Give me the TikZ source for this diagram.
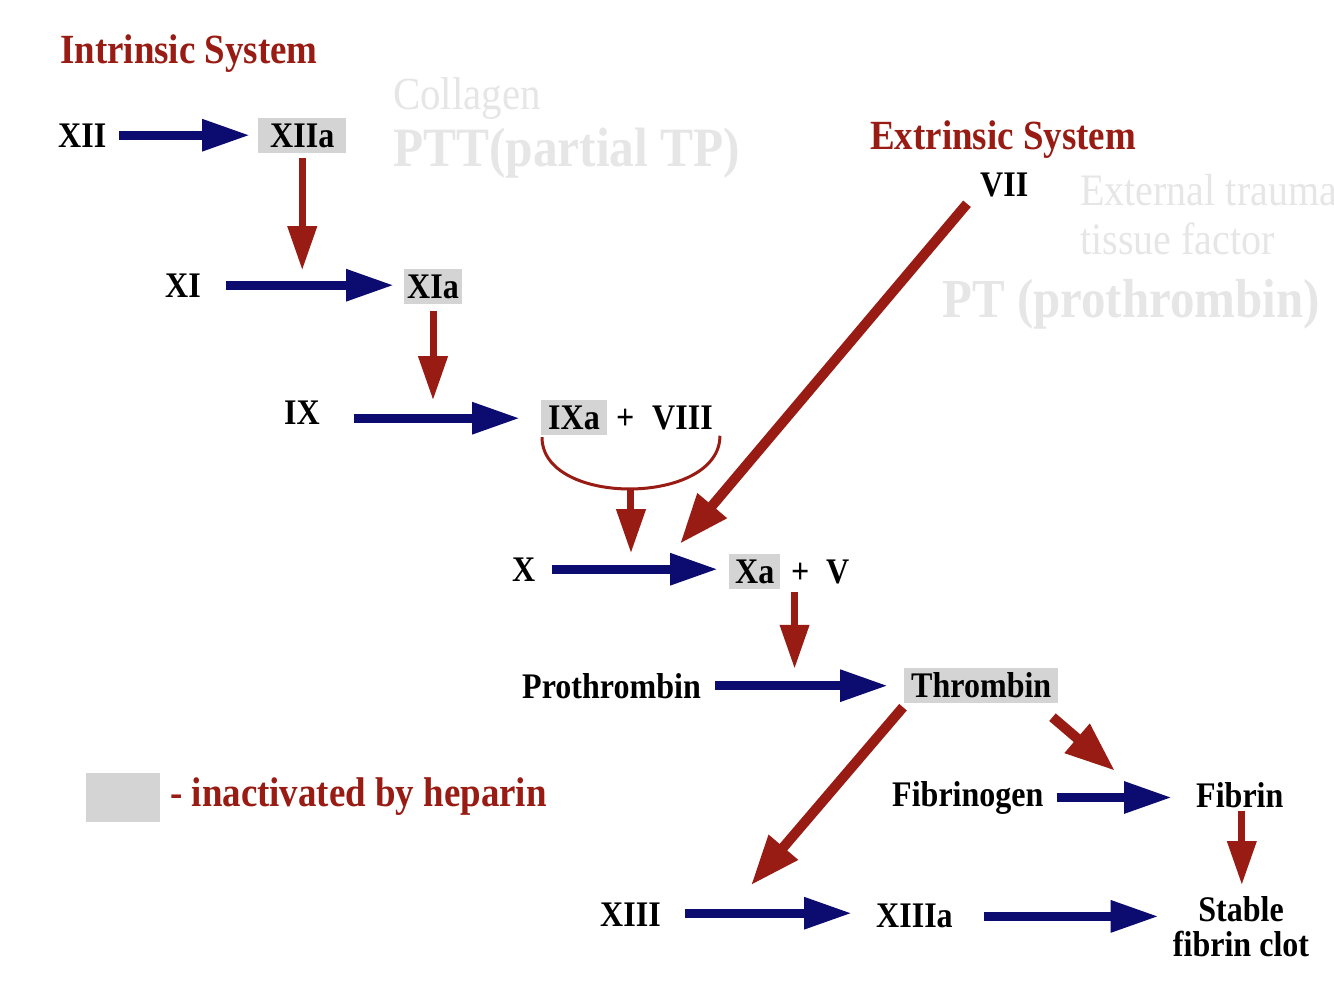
\documentclass[tikz,border=0pt]{standalone}
\usepackage{fontspec}
\setmainfont{Liberation Serif}[FakeStretch=0.89]
\usetikzlibrary{arrows.meta,calc}
\definecolor{navy}{HTML}{0B0B70}
\definecolor{dred}{HTML}{981C14}
\definecolor{faint}{HTML}{E6E6E6}
\definecolor{boxgray}{HTML}{D4D4D4}
\begin{document}
\begin{tikzpicture}[x=1pt,y=-1pt,
 lbl/.style={font=\fontsize{36}{39}\selectfont\bfseries, inner sep=0pt, anchor=base west},
 boxed/.style={lbl, fill=boxgray, text height=24pt, text depth=1pt, inner xsep=7pt, inner ysep=5pt},
 heading/.style={font=\fontsize{41.5}{44}\selectfont\bfseries, text=dred, inner sep=0pt, anchor=base west},
 ghost/.style={text=faint, inner sep=0pt, anchor=base west},
 barrow/.style={draw=navy, line width=9pt, -{Triangle[length=48pt,width=30pt]}},
 rarrow/.style={draw=dred, line width=7pt, -{Triangle[length=44pt,width=28pt]}},
 darrow/.style={draw=dred, line width=10pt, -{Triangle[length=50pt,width=36pt]}},
]
\useasboundingbox[fill=white] (0,0) rectangle (1334,982);

% headings and faint texts
\node[heading] (intr) at (60,64) {Intrinsic System};
\node[heading] (extr) at (870,149) {Extrinsic System};
\node[ghost, font=\fontsize{46}{50}\selectfont] (coll) at (393,110) {Collagen};
\node[ghost, font=\fontsize{55.5}{60}\selectfont\bfseries] (ptt) at (393,166) {PTT(partial TP)};
\node[ghost, font=\fontsize{45}{50}\selectfont] (ext) at (1080,205) {External trauma};
\node[ghost, font=\fontsize{45}{50}\selectfont] (tf) at (1080,254) {tissue factor};
\node[ghost, font=\fontsize{55}{60}\selectfont\bfseries] (pt) at (942,317) {PT (prothrombin)};

% factors
\node[lbl] (XII) at (58,147) {XII};
\node[boxed, inner xsep=12pt] (XIIa) at (258,147) {XIIa};
\node[lbl] (XI) at (165,297) {XI};
\node[boxed, inner xsep=3pt] (XIa) at (404,298) {XIa};
\node[lbl] (IX) at (284,424) {IX};
\node[boxed] (IXa) at (541,429) {IXa};
\node[lbl] (plusA) at (616,429) {+};
\node[lbl] (VIII) at (652,429) {VIII};
\node[lbl] (X) at (512,581) {X};
\node[boxed, inner xsep=6pt] (Xa) at (729,583) {Xa};
\node[lbl] (plusB) at (791,583) {+};
\node[lbl] (V) at (826,583) {V};
\node[lbl] (VII) at (980,196) {VII};
\node[lbl] (Pro) at (522,698) {Prothrombin};
\node[boxed] (Thr) at (904,697) {Thrombin};
\node[lbl] (Fgen) at (892,806) {Fibrinogen};
\node[lbl] (Fib) at (1196,807) {Fibrin};
\node[lbl] (XIII) at (600,926) {XIII};
\node[lbl] (XIIIa) at (876,927) {XIIIa};
\node[lbl, anchor=north, align=center, font=\fontsize{36}{35}\selectfont\bfseries] (clot) at (1241,896) {Stable\\fibrin clot};

% legend
\node[fill=boxgray, minimum width=74pt, minimum height=49pt, inner sep=0pt, anchor=north west] (leg) at (86,773) {};
\node[heading] (legtxt) at (170,806) {- inactivated by heparin};

% blue conversion arrows
\draw[barrow] ($(XII.east)+(13,0)$) -- ($(XII.east -| XIIa.west)+(-8,0)$);
\draw[barrow] ($(XI.east)+(25,0)$) -- ($(XI.east -| XIa.west)+(-10,0)$);
\draw[barrow] ($(IX.east)+(34,6)$) -- ($(IX.east -| IXa.west)+(-21,6)$);
\draw[barrow] ($(X.east)+(16,0)$) -- ($(X.east -| Xa.west)+(-11,0)$);
\draw[barrow] ($(Pro.east)+(14,0)$) -- ($(Pro.east -| Thr.west)+(-16,0)$);
\draw[barrow] ($(Fgen.east)+(13,0)$) -- ($(Fgen.east -| Fib.west)+(-24,0)$);
\draw[barrow] ($(XIII.east)+(24,-1)$) -- ($(XIII.east -| XIIIa.west)+(-24,-1)$);
\draw[barrow] ($(XIIIa.east)+(31,1)$) -- ($(XIIIa.east -| clot.west)+(-14,1)$);

% red activation arrows
\draw[rarrow] ($(XIIa.south)+(0,5)$) -- ($(XIIa.south |- XI.north)+(0,-3)$);
\draw[rarrow] ($(XIa.south)+(0,7)$) -- ($(XIa.south |- IX.north)+(0,0)$);
\draw[dred, line width=3pt] ($(IXa.south west)+(1,2)$) .. controls +(0,70) and +(0,70) .. coordinate[pos=0.5] (arcbot) ($(VIII.south east)+(7,6)$);
\draw[rarrow] (arcbot) -- ($(arcbot |- X.north)+(0,-4)$);
\draw[rarrow] ($(Xa.south east)+(14,3)$) -- ($(Xa.south east |- Thr.north)+(14,1)$);
\draw[rarrow] ($(Fib.south)+(2,3)$) -- ($(Fib.south |- clot.north)+(2,-11)$);

% diagonal arrows
\draw[darrow] ($(VII.south west)+(-13,7)$) -- ($(Xa.north west)+(-49,-10)$);
\draw[darrow] ($(Thr.south west)+(-1,4)$) -- ($(XIII.north east)+(90,-17)$);
\draw[darrow] ($(Thr.south east)+(-6,14)$) -- ($(Fib.north west)+(-81,-11)$);
\end{tikzpicture}
\end{document}
